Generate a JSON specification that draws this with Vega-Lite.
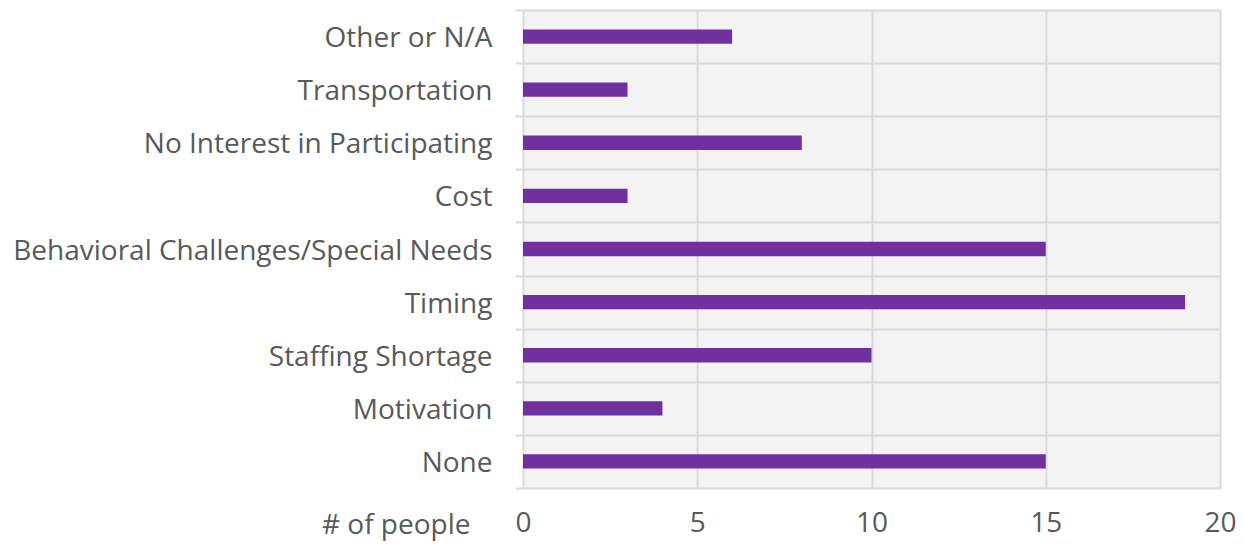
{
  "$schema": "https://vega.github.io/schema/vega-lite/v6.json",
  "autosize": {"type": "none"},
  "padding": {"left": 523, "top": 10, "right": 24, "bottom": 56},
  "width": 697,
  "height": 478,
  "background": "white",
  "config": {
    "view": {"stroke": null, "fill": "#f3f3f3"},
    "font": "Open Sans"
  },
  "data": {
    "values": [
      {"reason": "Other or N/A", "count": 6},
      {"reason": "Transportation", "count": 3},
      {"reason": "No Interest in Participating", "count": 8},
      {"reason": "Cost", "count": 3},
      {"reason": "Behavioral Challenges/Special Needs", "count": 15},
      {"reason": "Timing", "count": 19},
      {"reason": "Staffing Shortage", "count": 10},
      {"reason": "Motivation", "count": 4},
      {"reason": "None", "count": 15}
    ]
  },
  "mark": {"type": "bar", "color": "#7030A0", "height": {"band": 0.27}},
  "encoding": {
    "y": {
      "field": "reason",
      "type": "nominal",
      "sort": null,
      "scale": {"paddingInner": 0, "paddingOuter": 0},
      "axis": {
        "title": null,
        "domain": false,
        "tickBand": "extent",
        "grid": true,
        "gridColor": "#d9d9d9",
        "gridWidth": 2,
        "ticks": true,
        "tickColor": "#d9d9d9",
        "tickWidth": 2,
        "tickSize": 8,
        "labelPadding": 23,
        "labelOffset": 2,
        "labelFontSize": 28,
        "labelColor": "#595959",
        "labelLimit": 600
      }
    },
    "x": {
      "field": "count",
      "type": "quantitative",
      "scale": {"domain": [0, 20], "nice": false},
      "axis": {
        "values": [0, 5, 10, 15, 20],
        "domain": false,
        "ticks": false,
        "grid": true,
        "gridColor": "#d9d9d9",
        "gridWidth": 2,
        "labelFlush": false,
        "labelBound": false,
        "labelPadding": 21,
        "labelFontSize": 28,
        "labelColor": "#595959",
        "title": "# of people",
        "titleFontSize": 28,
        "titleFontWeight": "normal",
        "titleColor": "#595959",
        "titleX": -53,
        "titleY": 37,
        "titleAlign": "right",
        "titleBaseline": "middle",
        "titleAnchor": null
      }
    }
  }
}
